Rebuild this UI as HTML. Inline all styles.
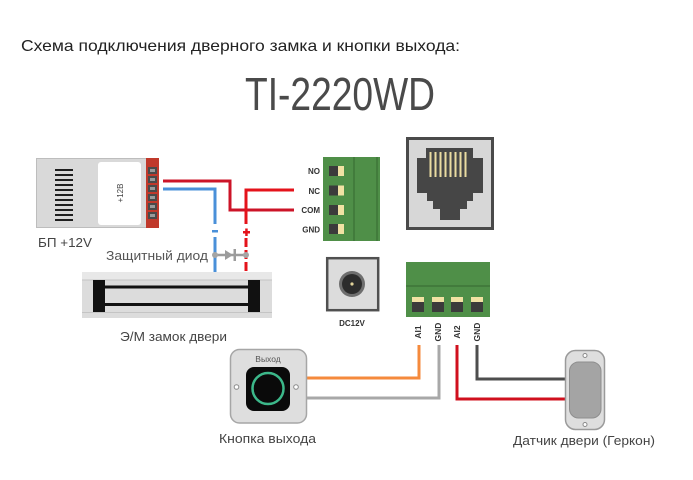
<!DOCTYPE html>
<html><head><meta charset="utf-8"><style>
html,body{margin:0;padding:0;background:#fff;}
svg{display:block;}
text{font-family:"Liberation Sans","DejaVu Sans",sans-serif;}
</style></head><body>
<svg width="693" height="480" viewBox="0 0 693 480" xmlns="http://www.w3.org/2000/svg">
<rect width="693" height="480" fill="#fff"/>
<text x="21" y="51" font-size="16" fill="#222" textLength="439" lengthAdjust="spacingAndGlyphs">Схема подключения дверного замка и кнопки выхода:</text>
<text x="245" y="110" font-size="46" fill="#4a4a4a" textLength="190" lengthAdjust="spacingAndGlyphs">TI-2220WD</text>

<!-- PSU -->
<rect x="36.5" y="158.5" width="110" height="69" fill="#d9d9d9" stroke="#bdbdbd" stroke-width="1"/>
<rect x="98" y="162" width="43" height="63" rx="3" fill="#fff"/>
<g fill="#1e1e1e">
<rect x="55" y="169" width="18" height="2"/><rect x="55" y="174" width="18" height="2"/><rect x="55" y="179" width="18" height="2"/><rect x="55" y="184" width="18" height="2"/><rect x="55" y="189" width="18" height="2"/><rect x="55" y="194" width="18" height="2"/><rect x="55" y="199" width="18" height="2"/><rect x="55" y="204" width="18" height="2"/><rect x="55" y="209" width="18" height="2"/><rect x="55" y="214" width="18" height="2"/><rect x="55" y="219" width="18" height="2"/>
</g>
<text transform="translate(123,193) rotate(-90)" font-size="8" fill="#444" text-anchor="middle">+12В</text>
<rect x="146" y="158" width="13" height="70" fill="#c0392b"/>
<g fill="#4a4a4a">
<rect x="148" y="167" width="9" height="7"/><rect x="148" y="176" width="9" height="7"/><rect x="148" y="185" width="9" height="7"/><rect x="148" y="194" width="9" height="7"/><rect x="148" y="203" width="9" height="7"/><rect x="148" y="212" width="9" height="7"/>
</g>
<g fill="#9a9a9a">
<rect x="150" y="169" width="5" height="3"/><rect x="150" y="178" width="5" height="3"/><rect x="150" y="187" width="5" height="3"/><rect x="150" y="196" width="5" height="3"/><rect x="150" y="205" width="5" height="3"/><rect x="150" y="214" width="5" height="3"/>
</g>
<text x="38" y="247" font-size="12.5" fill="#444" textLength="54" lengthAdjust="spacingAndGlyphs">БП +12V</text>

<!-- wires PSU -> relay -->
<polyline points="163,181 230,181 230,210 294,210" fill="none" stroke="#cc1428" stroke-width="3"/>
<polyline points="294,190 246,190 246,224" fill="none" stroke="#e4131b" stroke-width="3"/>
<polyline points="163,189 215,189 215,224" fill="none" stroke="#4a90d9" stroke-width="3"/>
<rect x="212" y="230" width="6" height="2.5" fill="#4a90d9"/>
<rect x="243" y="231" width="7" height="2.5" fill="#e4131b"/>
<rect x="245.2" y="228.5" width="2.5" height="7.5" fill="#e4131b"/>
<line x1="215" y1="237" x2="215" y2="272" stroke="#4a90d9" stroke-width="3"/>
<line x1="246" y1="238" x2="246" y2="272" stroke="#e4131b" stroke-width="3" stroke-dasharray="9 3"/>
<!-- diode -->
<line x1="215" y1="255" x2="246" y2="255" stroke="#9c9c9c" stroke-width="2.5"/>
<polygon points="225,250 233,255 225,260" fill="#9c9c9c"/>
<rect x="233.5" y="249" width="2.5" height="12" fill="#9c9c9c"/>
<circle cx="215" cy="255" r="3" fill="#a5a5a5"/>
<circle cx="246" cy="255" r="3" fill="#a5a5a5"/>
<text x="106" y="260" font-size="12.5" fill="#555" textLength="102" lengthAdjust="spacingAndGlyphs">Защитный диод</text>

<!-- lock -->
<rect x="82" y="272" width="190" height="46" fill="#dcdcdc"/>
<rect x="82" y="272" width="190" height="8" fill="#e8e8e8"/>
<line x1="82" y1="280" x2="272" y2="280" stroke="#c4c4c4" stroke-width="1"/>
<line x1="82" y1="312.5" x2="272" y2="312.5" stroke="#c4c4c4" stroke-width="1"/>
<rect x="93" y="280" width="12" height="32" fill="#111"/>
<rect x="248" y="280" width="12" height="32" fill="#111"/>
<rect x="105" y="285.5" width="143" height="3" fill="#111"/>
<rect x="105" y="303" width="143" height="3" fill="#111"/>
<text x="120" y="341" font-size="12.5" fill="#444" textLength="107" lengthAdjust="spacingAndGlyphs">Э/М замок двери</text>

<!-- relay terminal -->
<rect x="323" y="157" width="57" height="84" fill="#4f8f48"/>
<line x1="354" y1="157" x2="354" y2="241" stroke="#3a6f34" stroke-width="1.2"/>
<line x1="377" y1="157" x2="377" y2="241" stroke="#3a6f34" stroke-width="1.2"/>
<g>
<rect x="329" y="166" width="10" height="10" fill="#3b3b3b"/><rect x="338" y="166" width="6" height="10" fill="#f1e2a4"/>
<rect x="329" y="185.5" width="10" height="10" fill="#3b3b3b"/><rect x="338" y="185.5" width="6" height="10" fill="#f1e2a4"/>
<rect x="329" y="205" width="10" height="10" fill="#3b3b3b"/><rect x="338" y="205" width="6" height="10" fill="#f1e2a4"/>
<rect x="329" y="224" width="10" height="10" fill="#3b3b3b"/><rect x="338" y="224" width="6" height="10" fill="#f1e2a4"/>
</g>
<g font-size="8" font-weight="bold" fill="#333" text-anchor="end">
<text x="320" y="174">NO</text>
<text x="320" y="194">NC</text>
<text x="320" y="213">COM</text>
<text x="320" y="232.5">GND</text>
</g>

<!-- RJ45 -->
<rect x="407.5" y="138.5" width="85" height="90" fill="#d7d7d7" stroke="#4a4a4a" stroke-width="3"/>
<g fill="#464646">
<rect x="426" y="148" width="47" height="11"/>
<rect x="417" y="158" width="66" height="35"/>
<rect x="427" y="192" width="46" height="9"/>
<rect x="433" y="200" width="34" height="9"/>
<rect x="440" y="208" width="20" height="12"/>
</g>
<g fill="#eadca2">
<rect x="429.5" y="152" width="2" height="25"/><rect x="434.5" y="152" width="2" height="25"/><rect x="439.5" y="152" width="2" height="25"/><rect x="444.5" y="152" width="2" height="25"/><rect x="449.5" y="152" width="2" height="25"/><rect x="454.5" y="152" width="2" height="25"/><rect x="459.5" y="152" width="2" height="25"/><rect x="464.5" y="152" width="2" height="25"/>
</g>

<!-- DC jack -->
<rect x="327.2" y="258.2" width="51" height="52" fill="#dcdcdc" stroke="#505050" stroke-width="2.5"/>
<circle cx="352" cy="284" r="13" fill="#6e6e6e"/>
<circle cx="352" cy="284" r="10" fill="#2c2c2c"/>
<circle cx="352" cy="284" r="1.6" fill="#e2d39a"/>
<text x="352" y="326" font-size="8" font-weight="bold" fill="#333" text-anchor="middle">DC12V</text>

<!-- bottom terminal -->
<rect x="406" y="262" width="84" height="55" fill="#4f8f48"/>
<line x1="406" y1="286" x2="490" y2="286" stroke="#3a6f34" stroke-width="1.2"/>
<g>
<rect x="412" y="297" width="12" height="15" fill="#3b3b3b"/><rect x="412" y="297" width="12" height="5" fill="#f1e2a4"/>
<rect x="432" y="297" width="12" height="15" fill="#3b3b3b"/><rect x="432" y="297" width="12" height="5" fill="#f1e2a4"/>
<rect x="451" y="297" width="12" height="15" fill="#3b3b3b"/><rect x="451" y="297" width="12" height="5" fill="#f1e2a4"/>
<rect x="471" y="297" width="12" height="15" fill="#3b3b3b"/><rect x="471" y="297" width="12" height="5" fill="#f1e2a4"/>
</g>
<g font-size="8.5" font-weight="bold" fill="#333" text-anchor="middle">
<text transform="translate(421,332) rotate(-90)">AI1</text>
<text transform="translate(441,332) rotate(-90)">GND</text>
<text transform="translate(460,332) rotate(-90)">AI2</text>
<text transform="translate(480,332) rotate(-90)">GND</text>
</g>

<!-- bottom wires -->
<polyline points="419,345 419,378 305,378" fill="none" stroke="#f58a3c" stroke-width="3"/>
<polyline points="439,345 439,398 305,398" fill="none" stroke="#a8a8a8" stroke-width="3"/>
<polyline points="457,345 457,399 566,399" fill="none" stroke="#d0101e" stroke-width="3"/>
<polyline points="477,345 477,379 566,379" fill="none" stroke="#4e4e4e" stroke-width="3"/>

<!-- exit button -->
<rect x="230.5" y="349.5" width="76" height="73.5" rx="9" fill="#dedede" stroke="#a6a6a6" stroke-width="1.5"/>
<rect x="246" y="367" width="44" height="44" rx="8" fill="#0a0a0a"/>
<circle cx="268" cy="388.5" r="15.5" fill="none" stroke="#3cb88a" stroke-width="2.5"/>
<circle cx="236.5" cy="387" r="2.3" fill="#fff" stroke="#8a8a8a" stroke-width="1"/>
<circle cx="296" cy="387" r="2.3" fill="#fff" stroke="#8a8a8a" stroke-width="1"/>
<text x="268" y="362" font-size="8.5" fill="#555" text-anchor="middle">Выход</text>
<text x="219" y="443" font-size="12.5" fill="#444" textLength="97" lengthAdjust="spacingAndGlyphs">Кнопка выхода</text>

<!-- reed sensor -->
<rect x="565.5" y="350.5" width="39" height="79" rx="10" fill="#dedede" stroke="#9a9a9a" stroke-width="1.5"/>
<rect x="569.5" y="362" width="31.5" height="56" rx="9" fill="#a4a4a4" stroke="#8e8e8e" stroke-width="1"/>
<circle cx="585" cy="355.5" r="2" fill="#fff" stroke="#8a8a8a" stroke-width="1"/>
<circle cx="585" cy="424.5" r="2" fill="#fff" stroke="#8a8a8a" stroke-width="1"/>
<text x="513" y="445" font-size="12.5" fill="#444" textLength="142" lengthAdjust="spacingAndGlyphs">Датчик двери (Геркон)</text>
</svg>
</body></html>
